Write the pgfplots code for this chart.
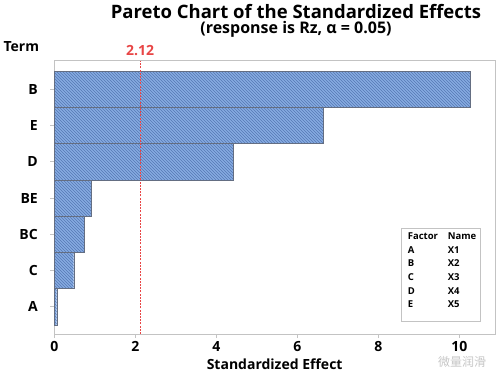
\documentclass[border=0pt]{standalone}
\usepackage{pgfplots}
\pgfplotsset{compat=1.18}
\usepackage{fontspec}
\setmainfont{Open Sans}
\newfontfamily\cjk{Noto Sans CJK SC}
\usetikzlibrary{patterns}
\definecolor{barfill}{RGB}{135,172,225}
\definecolor{barline}{RGB}{85,120,180}
\definecolor{baredge}{RGB}{100,110,130}
\definecolor{refred}{RGB}{232,70,70}
\definecolor{axgray}{RGB}{195,195,195}
\begin{document}
\begin{tikzpicture}[x=1pt,y=1pt]
\useasboundingbox (0,0) rectangle (500,375);
\begin{axis}[at={(54.3pt,41pt)}, anchor=south west, scale only axis,
 width=440.7pt, height=273pt, clip=false,
 xmin=0, xmax=10.88, ymin=-0.75, ymax=6.78,
 xtick={0,2,...,10}, ytick={0,...,6}, yticklabels={A,C,BC,BE,D,E,B},
 tick align=outside, xtick pos=bottom, ytick pos=left,
 major tick length=4pt,
 axis line style={axgray, line width=1pt}, tick style={axgray, line width=0.8pt},
 ticklabel style={font=\fontsize{14}{14}\selectfont\bfseries},
 yticklabel style={xshift=-9pt},
 /pgf/number format/assume math mode=true,
 xlabel={Standardized Effect},
 xlabel style={font=\fontsize{14}{14}\selectfont\bfseries},
]
\addplot[xbar, bar width=1, draw=baredge, fill=barfill,
  postaction={pattern=north west lines, pattern color=barline}]
  coordinates {(0.06,0) (0.48,1) (0.75,2) (0.91,3) (4.42,4) (6.63,5) (10.26,6)};
\addplot[refred, line width=1.1pt, dash pattern=on 2pt off 1.2pt]
  coordinates {(2.12,-0.75) (2.12,6.78)};
\node[refred, anchor=base, font=\fontsize{14}{14}\selectfont\bfseries, yshift=5pt]
  at (axis cs:2.12,6.78) {2.12};
\end{axis}
\node[anchor=base, font=\fontsize{18.5}{18.5}\selectfont\bfseries] at (296,356.5) {Pareto Chart of the Standardized Effects};
\node[anchor=base, font=\fontsize{16}{16}\selectfont\bfseries] at (296,341) {(response is Rz, α = 0.05)};
\node[anchor=base west, inner sep=0pt, font=\fontsize{14}{14}\selectfont\bfseries] at (3.3,323.3) {Term};
\draw[axgray, line width=0.8pt] (401.7,147) rectangle (480,53.3);
\begin{scope}[every node/.style={anchor=base west, inner sep=0pt, font=\fontsize{9.5}{9.5}\selectfont\bfseries}]
\node at (407.7,135.7) {Factor};
\node at (447.7,135.7) {Name};
\node at (407.7,121.7) {A}; \node at (447.7,121.7) {X1};
\node at (407.7,108.3) {B}; \node at (447.7,108.3) {X2};
\node at (407.7,95.0) {C}; \node at (447.7,95.0) {X3};
\node at (407.7,81.0) {D}; \node at (447.7,81.0) {X4};
\node at (407.7,67.7) {E}; \node at (447.7,67.7) {X5};
\end{scope}
\node[anchor=base west, inner sep=0pt, text=gray!45, font=\cjk\fontsize{12}{12}\selectfont] at (438,9) {微量润滑};
\end{tikzpicture}
\end{document}
